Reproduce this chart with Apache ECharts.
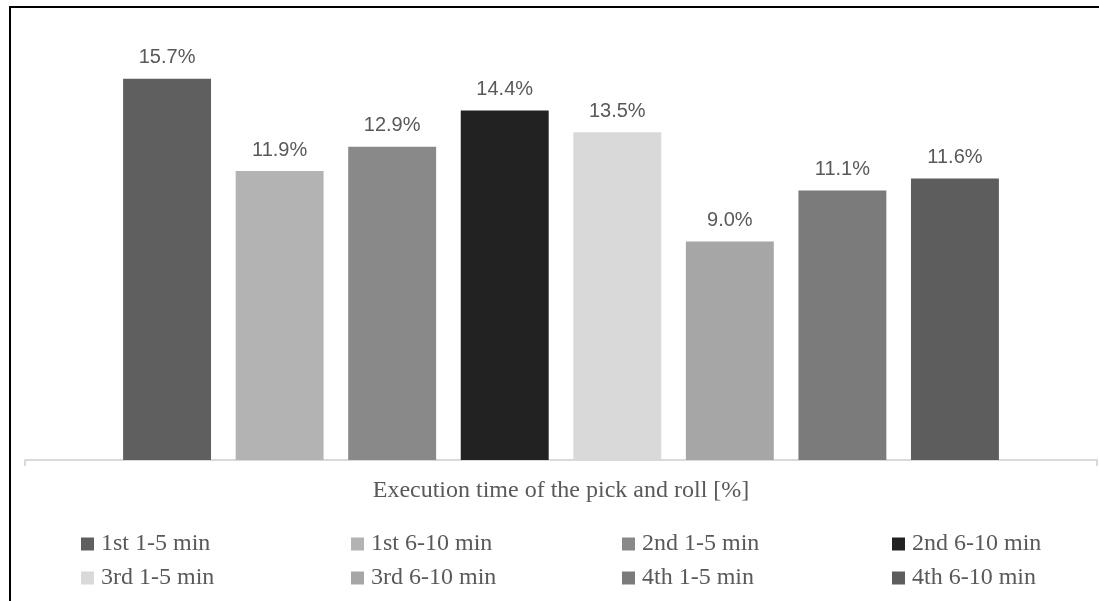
<!DOCTYPE html>
<html>
<head>
<meta charset="utf-8">
<title>Execution time of the pick and roll</title>
<script src="https://cdn.jsdelivr.net/npm/echarts@6/dist/echarts.min.js"></script>
<style>
  html, body { margin: 0; padding: 0; background: #fff; }
  #chart { width: 1099px; height: 601px; }
</style>
</head>
<body>
<div id="chart"></div>
<script>
// one category on the x axis, one series per period
const categories = ["Execution time of the pick and roll [%]"];
const seriesNames = [
  "1st 1-5 min", "1st 6-10 min", "2nd 1-5 min", "2nd 6-10 min",
  "3rd 1-5 min", "3rd 6-10 min", "4th 1-5 min", "4th 6-10 min",
];
const seriesValues = [15.7, 11.9, 12.9, 14.4, 13.5, 9.0, 11.1, 11.6];
const seriesColors = [
  "#5f5f5f", "#b3b3b3", "#898989", "#222222",
  "#d9d9d9", "#a6a6a6", "#7b7b7b", "#5d5d5d",
];

const serif = "'Liberation Serif', 'DejaVu Serif', serif";
const textGray = "#595959";

function buildSeries() {
  return seriesNames.map((name, i) => ({
    name,
    type: "bar",
    data: [seriesValues[i]],
    barGap: "28%",
    barCategoryGap: "18.3%",
    itemStyle: { color: seriesColors[i] },
    label: {
      show: true,
      position: "top",
      distance: 11,
      color: textGray,
      fontFamily: "'Liberation Sans', Arial, sans-serif",
      fontSize: 20,
      formatter: (p) => p.value.toFixed(1) + "%",
    },
  }));
}

// four legend columns, two rows each
function buildLegends() {
  const colLeft = [81, 351, 622, 892];
  return colLeft.map((left, c) => ({
    orient: "vertical",
    left,
    top: 532,
    padding: 0,
    itemGap: 10,
    itemWidth: 13,
    itemHeight: 13,
    icon: "rect",
    selectedMode: false,
    data: [seriesNames[c], seriesNames[c + 4]],
    textStyle: {
      color: textGray,
      fontFamily: serif,
      fontSize: 24,
      lineHeight: 24,
      padding: [0, 0, 0, 2],
    },
  }));
}

const chart = echarts.init(document.getElementById("chart"));
chart.setOption({
  backgroundColor: "#fff",
  animation: false,
  grid: { left: 25, right: 2, top: 23, bottom: 141, containLabel: false },
  xAxis: {
    type: "category",
    data: categories,
    axisLabel: { show: false },
    axisLine: { lineStyle: { color: "#d9d9d9", width: 2 } },
    axisTick: { show: true, length: 6, lineStyle: { color: "#d9d9d9", width: 2 } },
    name: categories[0],
    nameLocation: "middle",
    nameGap: 19,
    nameTextStyle: { color: textGray, fontFamily: serif, fontSize: 24, lineHeight: 24 },
  },
  yAxis: {
    type: "value",
    min: 0,
    max: 18,
    show: false,
  },
  legend: buildLegends(),
  series: buildSeries(),
  graphic: [
    { type: "rect", left: 9, top: 6, shape: { width: 1090, height: 2 }, style: { fill: "#000" } },
    { type: "rect", left: 9, top: 6, shape: { width: 2, height: 595 }, style: { fill: "#000" } },
  ],
});
</script>
</body>
</html>
